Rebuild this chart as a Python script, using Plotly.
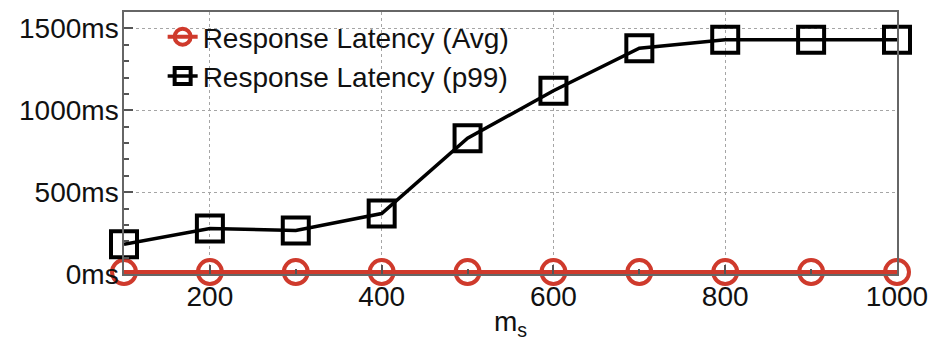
import plotly.graph_objects as go

ms_values = [100, 200, 300, 400, 500, 600, 700, 800, 900, 1000]
avg_latency = [12, 12, 12, 12, 12, 12, 12, 12, 12, 12]
p99_latency = [181, 278, 266, 369, 829, 1119, 1379, 1430, 1430, 1430]
x_ticks = [200, 400, 600, 800, 1000]
y_ticks = [0, 500, 1000, 1500]
y_tick_labels = ["0ms", "500ms", "1000ms", "1500ms"]

RED = "#cf3a2c"
FONT = "Liberation Sans, Arial, sans-serif"

fig = go.Figure()
fig.add_trace(go.Scatter(
    x=ms_values, y=avg_latency, name="Response Latency (Avg)",
    mode="lines+markers",
    line=dict(color=RED, width=4),
    marker=dict(symbol="circle-open", size=24, color=RED, line=dict(width=4, color=RED)),
    cliponaxis=False,
))
fig.add_trace(go.Scatter(
    x=ms_values, y=p99_latency, name="Response Latency (p99)",
    mode="lines+markers",
    line=dict(color="black", width=3.5),
    marker=dict(symbol="square-open", size=26, color="black", line=dict(width=4, color="black")),
    cliponaxis=False,
))

axis_common = dict(
    showline=True, mirror=True, linecolor="#666666", linewidth=1.5,
    showgrid=True, gridcolor="#a5a5a5", griddash="dot", gridwidth=1,
    ticks="inside", ticklen=9, tickcolor="#555555", tickwidth=1.5,
    zeroline=False,
    tickfont=dict(family=FONT, size=28, color="#111111"),
)

fig.update_xaxes(
    range=[100, 1000], tickvals=x_ticks,
    title=dict(text="m<sub>s</sub>", font=dict(family=FONT, size=28, color="#111111"), standoff=0),
    minor=dict(ticks="inside", dtick=100, tick0=0, ticklen=5, tickcolor="#555555", showgrid=False),
    ticklabelstandoff=-3,
    **axis_common,
)
fig.update_yaxes(
    range=[0, 1600], tickvals=y_ticks, ticktext=y_tick_labels,
    minor=dict(ticks="inside", dtick=100, tick0=0, ticklen=5, tickcolor="#555555", showgrid=False),
    ticklabelstandoff=-2,
    **axis_common,
)

fig.update_layout(
    width=938, height=350,
    margin=dict(l=124, r=35, t=10, b=76),
    paper_bgcolor="white", plot_bgcolor="white",
    font=dict(family=FONT, size=28, color="#111111"),
    legend=dict(
        x=0.05, y=1.0, xanchor="left", yanchor="top",
        bgcolor="rgba(0,0,0,0)", borderwidth=0,
        font=dict(family=FONT, size=28, color="#111111"),
        itemwidth=30, tracegroupgap=0,
    ),
    showlegend=True,
)

fig.write_html("out.html")
